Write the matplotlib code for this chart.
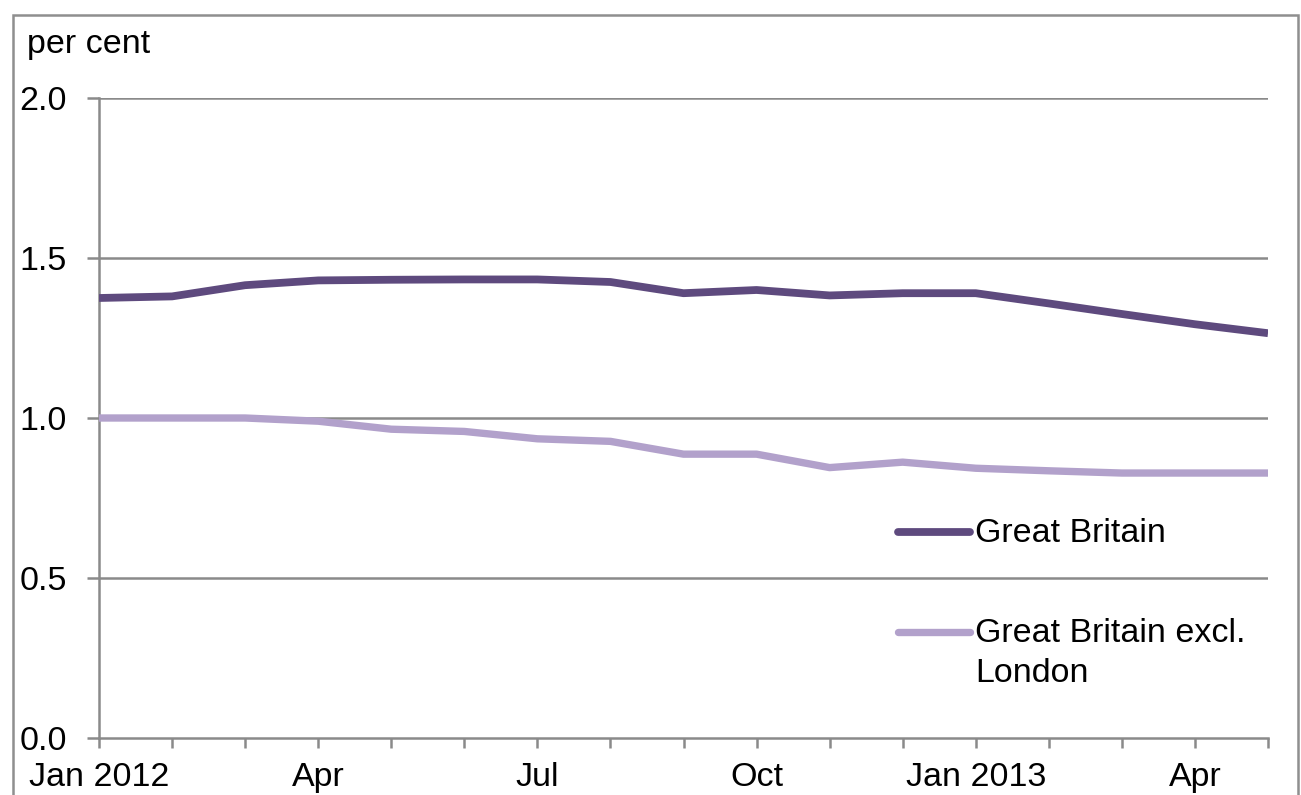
import matplotlib
matplotlib.use("Agg")
import matplotlib.pyplot as plt
from matplotlib.lines import Line2D
from matplotlib.patches import Rectangle

# Monthly series, Jan 2012 to May 2013
months = ["Jan 2012", "Feb", "Mar", "Apr", "May", "Jun", "Jul", "Aug", "Sep",
          "Oct", "Nov", "Dec", "Jan 2013", "Feb", "Mar", "Apr", "May"]
great_britain = [1.375, 1.38, 1.415, 1.43, 1.432, 1.433, 1.433, 1.425, 1.39,
                 1.40, 1.383, 1.39, 1.39, 1.358, 1.325, 1.293, 1.265]
gb_excl_london = [1.0, 1.0, 1.0, 0.99, 0.965, 0.958, 0.935, 0.927, 0.887,
                  0.887, 0.845, 0.862, 0.843, 0.835, 0.828, 0.828, 0.828]
labelled_months = ["Jan 2012", "Apr", "Jul", "Oct", "Jan 2013", "Apr"]
y_ticks = [0.0, 0.5, 1.0, 1.5, 2.0]
series_names = ["Great Britain", "Great Britain excl.\nLondon"]

W, H = 1301, 795
plt.rcParams["font.family"] = ["Liberation Sans", "DejaVu Sans"]
fig = plt.figure(figsize=(W / 100, H / 100), dpi=100)

dark = "#5e4a7e"
light = "#b2a1cb"
grid_c = "#8a8a8a"
fs = 24.5

# outer frame
fig.patches.append(Rectangle((13 / W, -0.05), (1298 - 13) / W, (H - 15) / H + 0.05,
                             transform=fig.transFigure, fill=False,
                             edgecolor="#8f8f8f", linewidth=1.8))

left, right, top, bottom = 99, 1268, 98, 738
ax = fig.add_axes([left / W, (H - bottom) / H, (right - left) / W, (bottom - top) / H])

x = list(range(len(months)))
ax.plot(x, great_britain, color=dark, linewidth=5.6, solid_capstyle="butt",
        solid_joinstyle="round", zorder=3)
ax.plot(x, gb_excl_london, color=light, linewidth=5.3, solid_capstyle="butt",
        solid_joinstyle="round", zorder=3)

ax.set_xlim(0, len(months) - 1)
ax.set_ylim(0, 2.0)

for s in ["top", "right"]:
    ax.spines[s].set_visible(False)
for s in ["left", "bottom"]:
    ax.spines[s].set_color(grid_c)
    ax.spines[s].set_linewidth(1.8)

for v in y_ticks[1:]:
    ax.axhline(v, color=grid_c, linewidth=1.8, zorder=1)

ax.set_yticks(y_ticks)
ax.set_yticklabels([f"{v:.1f}" for v in y_ticks])
ax.set_xticks(x)
ax.set_xticklabels([m if m in labelled_months and (i % 3 == 0) else "" for i, m in enumerate(months)])
ax.tick_params(axis="x", direction="out", length=7, width=1.8, color=grid_c,
               labelsize=fs, pad=10)
ax.tick_params(axis="y", direction="out", length=9, width=1.8, color=grid_c,
               labelsize=fs, pad=14)

fig.text(27 / W, 1 - 45 / H, "per cent", fontsize=fs, va="center", ha="left")

# legend
for (yy, col, lw), name in zip([(532, dark, 5.6), (632, light, 5.3)], series_names):
    fig.add_artist(Line2D([898 / W, 970 / W], [1 - yy / H, 1 - yy / H],
                          transform=fig.transFigure, color=col, linewidth=lw,
                          solid_capstyle="round"))
    fig.text(975 / W, 1 - (yy - 14) / H, name, fontsize=fs, va="top", ha="left",
             linespacing=1.38)

fig.savefig("out.png", dpi=100, facecolor="white")
